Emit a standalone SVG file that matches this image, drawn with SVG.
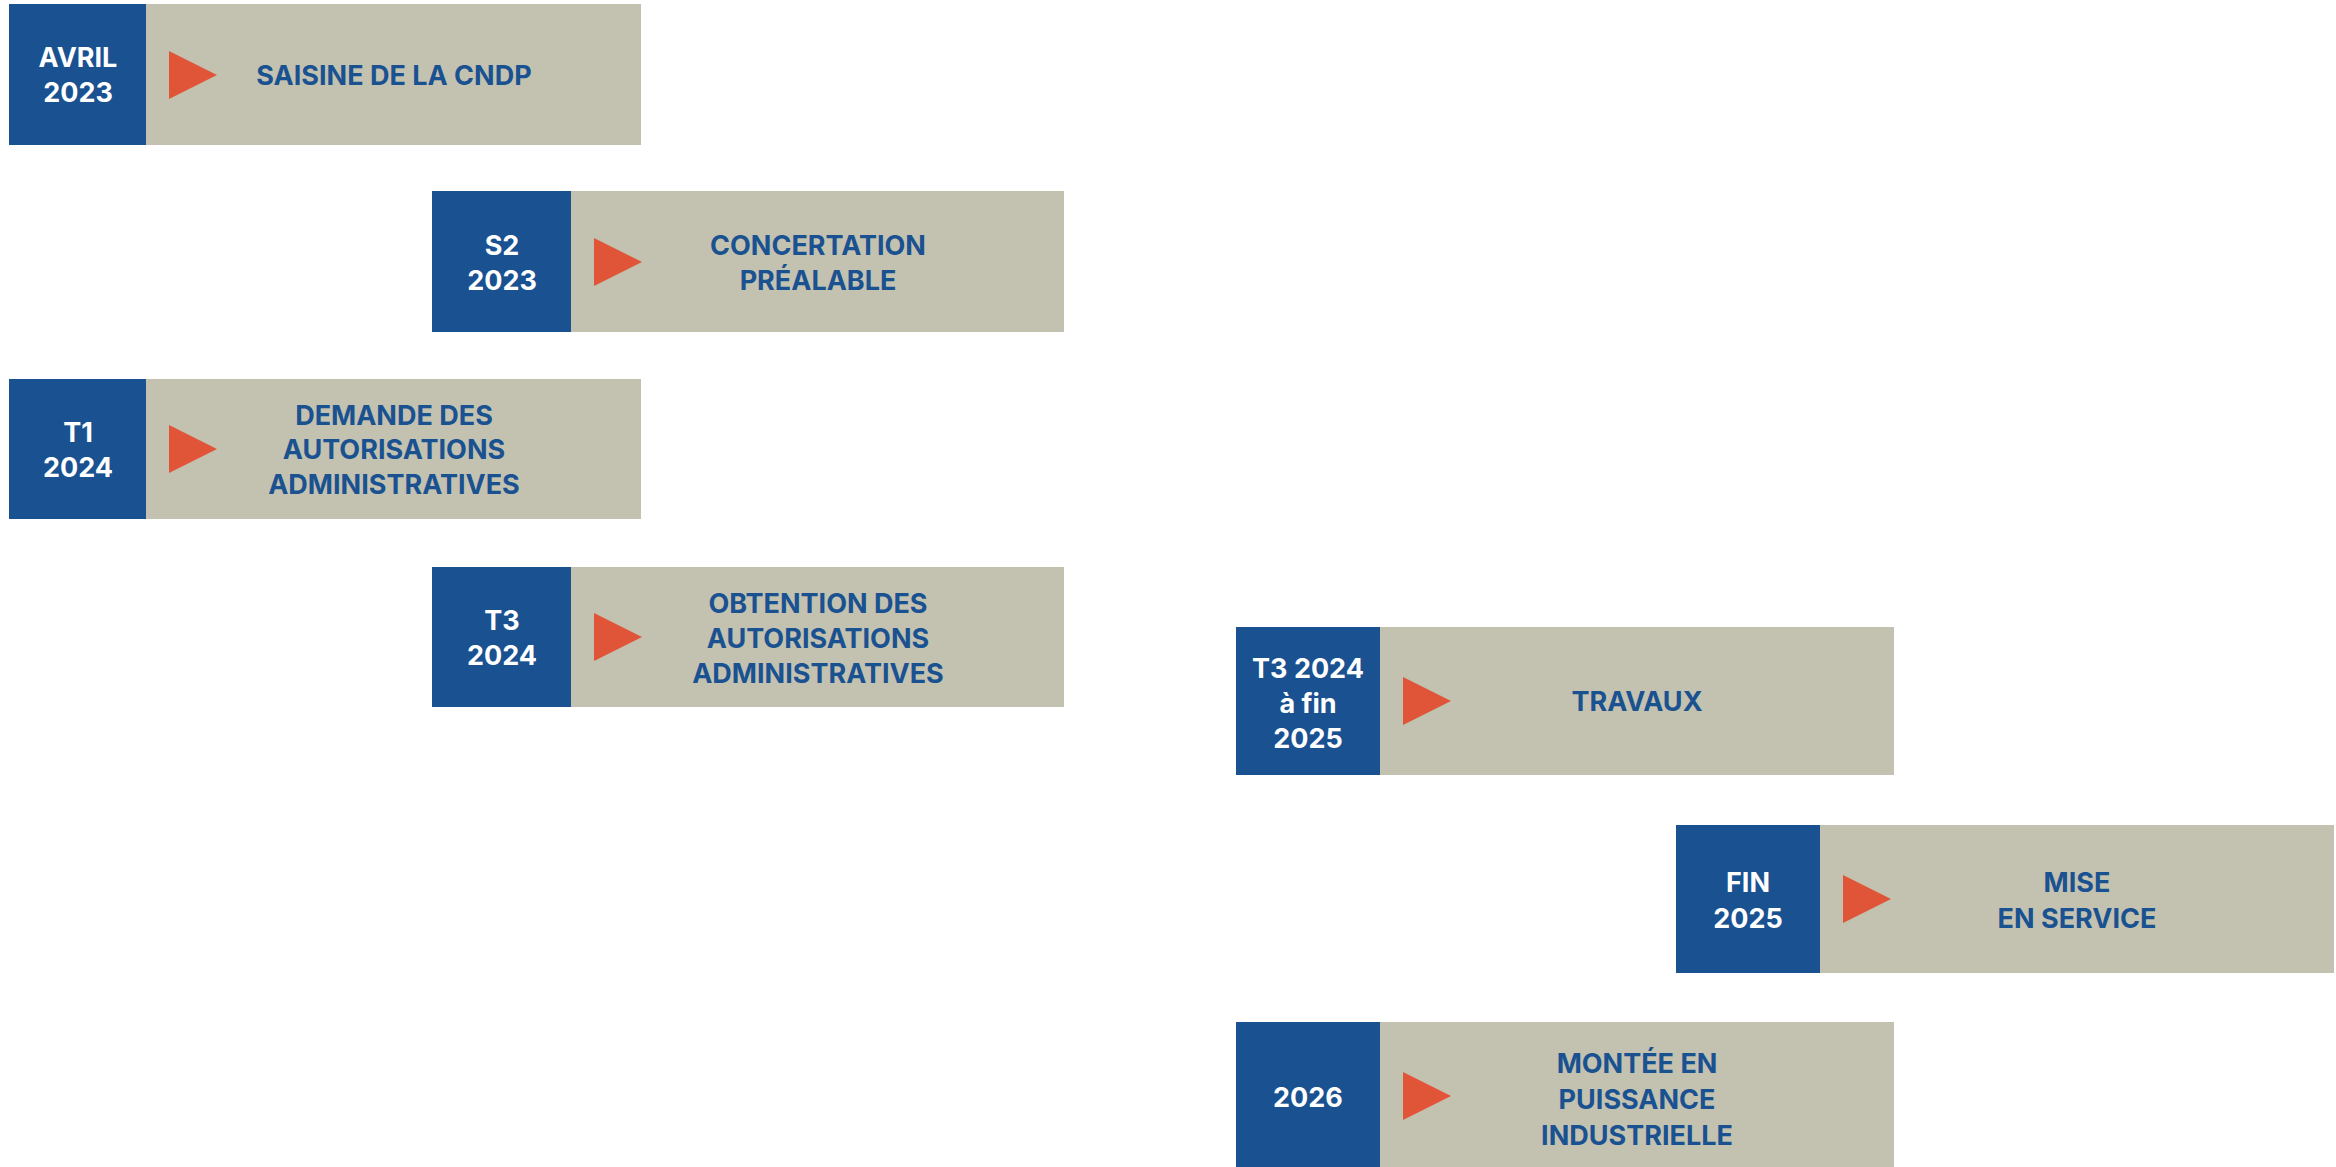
<svg xmlns="http://www.w3.org/2000/svg" width="2336" height="1167" viewBox="0 0 2336 1167">
<style>
.date{fill:#1a5191}
.body{fill:#c3c2b0}
.tri{fill:#e05538}
.dt{font-family:Inter,"Liberation Sans",sans-serif;font-weight:700;font-size:27px;fill:#ffffff;text-anchor:middle}
.tt{font-family:Inter,"Liberation Sans",sans-serif;font-weight:700;font-size:27px;fill:#1a5191;text-anchor:middle}
</style>
<rect width="2336" height="1167" fill="#ffffff"/>
<g id="connectors"/>
<g id="n1">
<rect class="body" x="146" y="4" width="495" height="141"/>
<rect class="date" x="9" y="4" width="137" height="141"/>
<polygon class="tri" points="169,51 217,75 169,99"/>
<text class="dt" x="78" y="67">AVRIL</text>
<text class="dt" x="78" y="102">2023</text>
<text class="tt" x="394" y="85">SAISINE DE LA CNDP</text>
</g>
<g id="n2">
<rect class="body" x="571" y="191" width="493" height="141"/>
<rect class="date" x="432" y="191" width="139" height="141"/>
<polygon class="tri" points="594,238 642,262 594,286"/>
<text class="dt" x="502" y="255">S2</text>
<text class="dt" x="502" y="290">2023</text>
<text class="tt" x="818" y="255">CONCERTATION</text>
<text class="tt" x="818" y="290">PRÉALABLE</text>
</g>
<g id="n3">
<rect class="body" x="146" y="379" width="495" height="140"/>
<rect class="date" x="9" y="379" width="137" height="140"/>
<polygon class="tri" points="169,425 217,449 169,473"/>
<text class="dt" x="78" y="442">T1</text>
<text class="dt" x="78" y="477">2024</text>
<text class="tt" x="394" y="425">DEMANDE DES</text>
<text class="tt" x="394" y="459">AUTORISATIONS</text>
<text class="tt" x="394" y="494">ADMINISTRATIVES</text>
</g>
<g id="n4">
<rect class="body" x="571" y="567" width="493" height="140"/>
<rect class="date" x="432" y="567" width="139" height="140"/>
<polygon class="tri" points="594,613 642,637 594,661"/>
<text class="dt" x="502" y="630">T3</text>
<text class="dt" x="502" y="665">2024</text>
<text class="tt" x="818" y="613">OBTENTION DES</text>
<text class="tt" x="818" y="648">AUTORISATIONS</text>
<text class="tt" x="818" y="683">ADMINISTRATIVES</text>
</g>
<g id="n5">
<rect class="body" x="1380" y="627" width="514" height="148"/>
<rect class="date" x="1236" y="627" width="144" height="148"/>
<polygon class="tri" points="1403,677 1451,701 1403,725"/>
<text class="dt" x="1308" y="678">T3 2024</text>
<text class="dt" x="1308" y="713">à fin</text>
<text class="dt" x="1308" y="748">2025</text>
<text class="tt" x="1637" y="711">TRAVAUX</text>
</g>
<g id="n6">
<rect class="body" x="1820" y="825" width="514" height="148"/>
<rect class="date" x="1676" y="825" width="144" height="148"/>
<polygon class="tri" points="1843,875 1891,899 1843,923"/>
<text class="dt" x="1748" y="892">FIN</text>
<text class="dt" x="1748" y="928">2025</text>
<text class="tt" x="2077" y="892">MISE</text>
<text class="tt" x="2077" y="928">EN SERVICE</text>
</g>
<g id="n7">
<rect class="body" x="1380" y="1022" width="514" height="148"/>
<rect class="date" x="1236" y="1022" width="144" height="148"/>
<polygon class="tri" points="1403,1072 1451,1096 1403,1120"/>
<text class="dt" x="1308" y="1107">2026</text>
<text class="tt" x="1637" y="1073">MONTÉE EN</text>
<text class="tt" x="1637" y="1109">PUISSANCE</text>
<text class="tt" x="1637" y="1145">INDUSTRIELLE</text>
</g>
</svg>
